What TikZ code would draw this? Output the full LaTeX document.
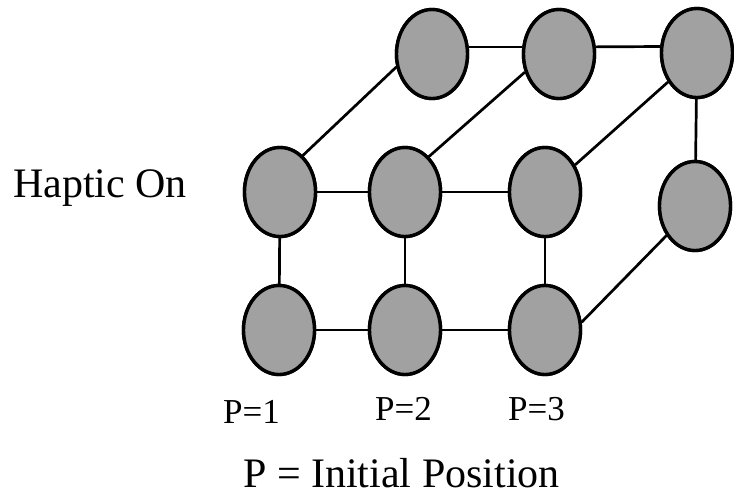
\documentclass[tikz,border=0pt]{standalone}
\usepackage{fontspec}
\setmainfont{Liberation Serif}
\usetikzlibrary{shapes.geometric}
\tikzset{
  ball/.style={ellipse, draw=black, line width=3.4pt, fill=black!37, inner sep=0pt,
    minimum width=71pt, minimum height=89pt},
  link/.style={line width=2.7pt, draw=black},
  bigtxt/.style={inner sep=0pt, anchor=base west, font=\fontsize{42}{48}\selectfont},
  smalltxt/.style={inner sep=0pt, anchor=base west, font=\fontsize{35}{40}\selectfont}
}
\begin{document}
\begin{tikzpicture}[x=1pt, y=-1pt]
\useasboundingbox (0,0) rectangle (734,496);
% top row
\node[ball] (A) at (432,54) {};
\node[ball] (B) at (559,54) {};
\node[ball] (C) at (697,53) {};
% middle row
\node[ball] (D1) at (280,192) {};
\node[ball] (D2) at (405,192) {};
\node[ball] (D3) at (545,192) {};
\node[ball] (D4) at (695,206) {};
% bottom row
\node[ball] (E1) at (279,330) {};
\node[ball] (E2) at (405,330) {};
\node[ball] (E3) at (545,330) {};
% connectors
\draw[link] (A.11) -- (B.169);
\draw[link] (B.11) -- (C.170);
\draw[link] (D1) -- (D2);
\draw[link] (D2) -- (D3);
\draw[link] (E1) -- (E2);
\draw[link] (E2) -- (E3);
\draw[link] (D1) -- (E1);
\draw[link] (D2) -- (E2);
\draw[link] (D3) -- (E3);
\draw[link] (C) -- (D4);
\draw[link] (D1.58) -- (A.200);
\draw[link] (D2.56) -- (B.208);
\draw[link] (D3.42) -- (C.225);
\draw[link] (E3.12) -- (D4.226);
% redraw nodes above the lines
\foreach \n in {A,B,C,D1,D2,D3,D4,E1,E2,E3}{
  \path[ball] (\n.center) ellipse [x radius=35.5pt, y radius=44.5pt];
}
% texts
\node[bigtxt] (haptic) at (13,197) {Haptic On};
\node[smalltxt] (p1) at (223,423) {P=1};
\node[smalltxt] (p2) at (375,420) {P=2};
\node[smalltxt] (p3) at (508,420) {P=3};
\node[bigtxt] (legend) at (243,487) {P = Initial Position};
\end{tikzpicture}
\end{document}
